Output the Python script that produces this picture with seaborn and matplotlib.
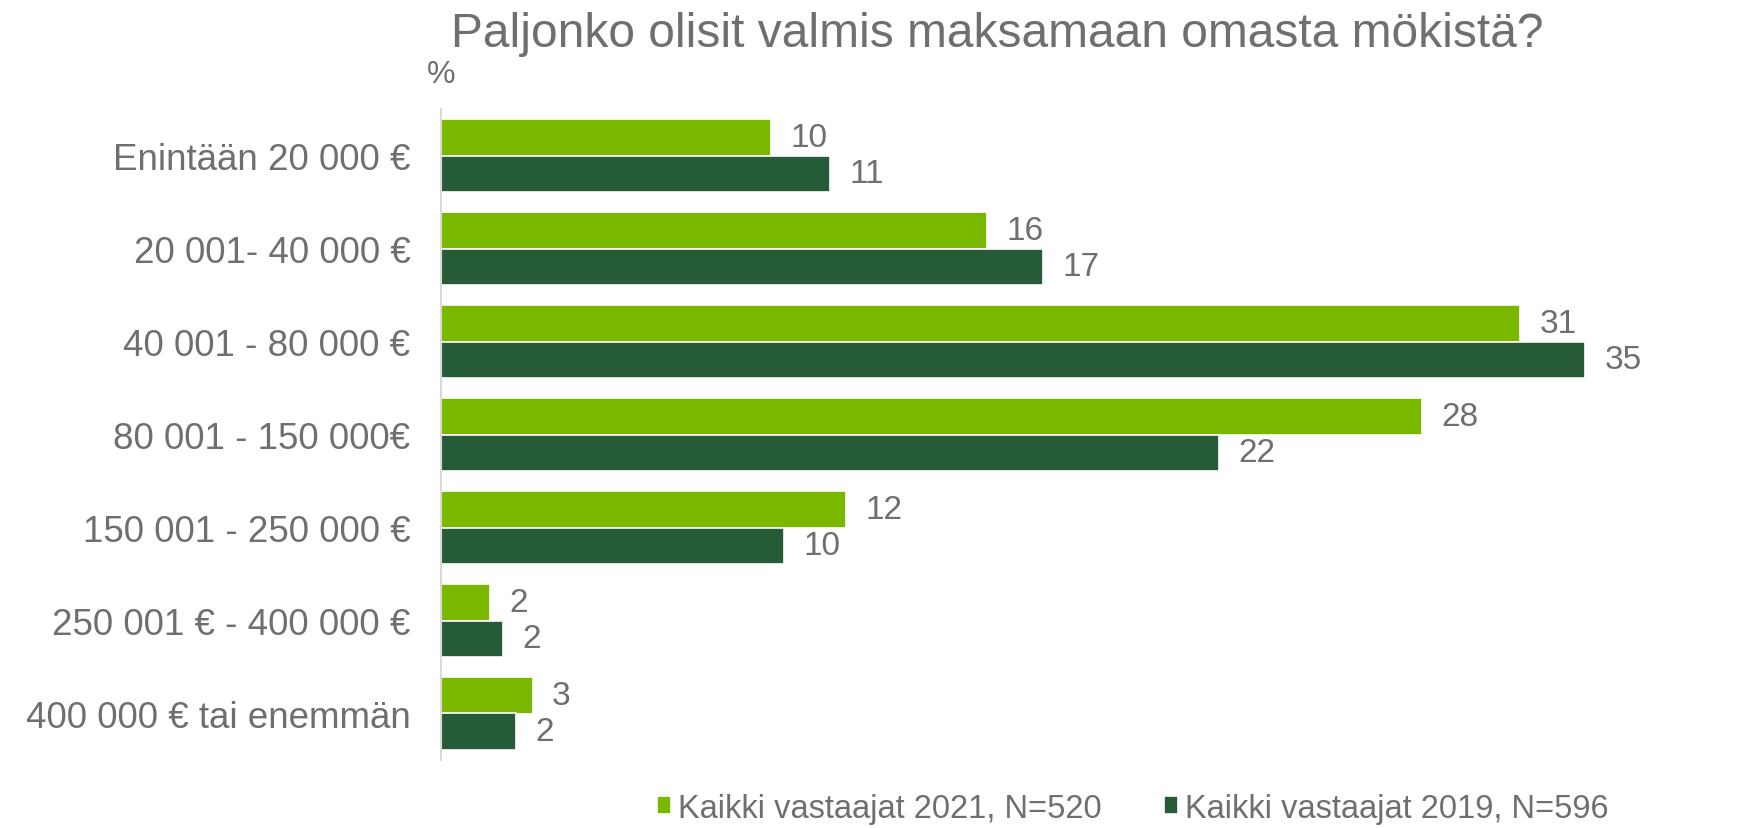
import pandas as pd
import matplotlib
matplotlib.use("Agg")
import matplotlib.pyplot as plt
import seaborn as sns

# categories (top to bottom)
categories = [
    "Enintään 20 000 €",
    "20 001- 40 000 €",
    "40 001 - 80 000 €",
    "80 001 - 150 000€",
    "150 001 - 250 000 €",
    "250 001 € - 400 000 €",
    "400 000 € tai enemmän",
]
series = ["Kaikki vastaajat 2021, N=520", "Kaikki vastaajat 2019, N=596"]

# bar lengths as drawn in the picture (%)
values_2021 = [10.1, 16.7, 33.0, 30.0, 12.4, 1.5, 2.8]
values_2019 = [11.9, 18.4, 35.0, 23.8, 10.5, 1.9, 2.3]
# numbers printed next to the bars
labels_2021 = [10, 16, 31, 28, 12, 2, 3]
labels_2019 = [11, 17, 35, 22, 10, 2, 2]

colors = ["#7AB800", "#265B37"]
grey = "#6F6F6F"

df = pd.DataFrame({
    "cat": categories * 2,
    "sarja": [series[0]] * len(categories) + [series[1]] * len(categories),
    "arvo": values_2021 + values_2019,
})

sns.set_style("white")
plt.rcParams["font.family"] = ["Liberation Sans", "DejaVu Sans"]

fig = plt.figure(figsize=(17.37, 8.29), dpi=100)
ax = fig.add_axes([441 / 1737, 68 / 829, 1177 / 1737, 651 / 829])

sns.barplot(data=df, y="cat", x="arvo", hue="sarja", order=categories,
            hue_order=series, palette=colors, saturation=1, orient="h",
            width=0.78, edgecolor="white", linewidth=1.2, ax=ax)

ax.set_xlim(0, 36)
ax.set_ylim(6.5, -0.5)

# value labels
for cont, labs in zip(ax.containers, [labels_2021, labels_2019]):
    ax.bar_label(cont, labels=[str(v) for v in labs], padding=14,
                 fontsize=24, color=grey, clip_on=False)

# axes styling
for s in ["top", "right", "bottom"]:
    ax.spines[s].set_visible(False)
ax.spines["left"].set_color("#D9D9D9")
ax.spines["left"].set_linewidth(1.5)
ax.set_xticks([])
ax.set_xlabel("")
ax.set_ylabel("")
ax.tick_params(axis="y", length=0, pad=22, labelsize=26.5, labelcolor=grey)

# title and unit
fig.text(0.574, 0.958, "Paljonko olisit valmis maksamaan omasta mökistä?",
         ha="center", va="center", fontsize=34.5, color=grey)
fig.text(441 / 1737, 0.91, "%", ha="center", va="center", fontsize=23, color=grey)

# legend at the bottom
handles, lbls = ax.get_legend_handles_labels()
ax.get_legend().remove()
fig.legend(handles, lbls, loc="center", bbox_to_anchor=(0.652, 0.024),
           ncol=2, frameon=False, fontsize=23.5, labelcolor=grey,
           handlelength=0.45, handleheight=0.45, handletextpad=0.2,
           columnspacing=1.9, borderpad=0.1)

plt.savefig("out.png", dpi=100)
